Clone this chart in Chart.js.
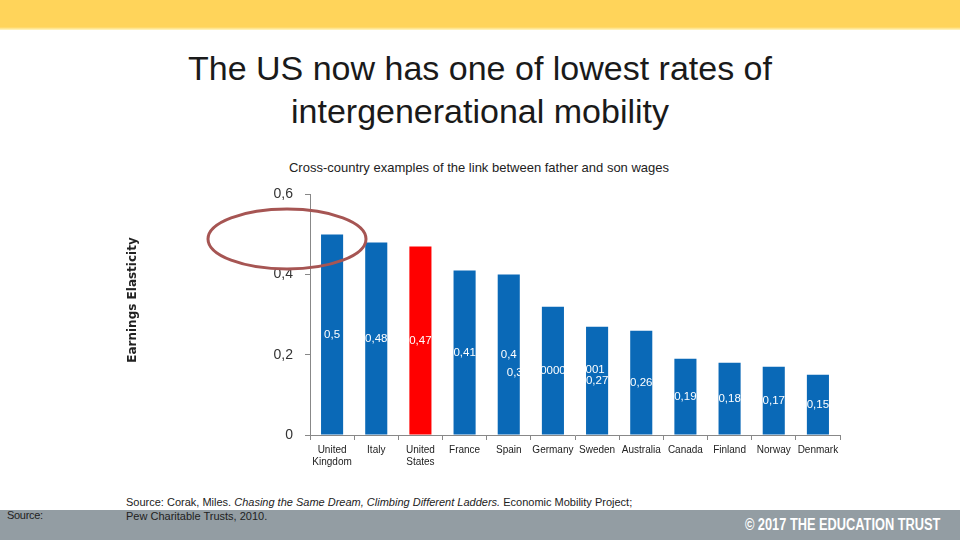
<!DOCTYPE html>
<html>
<head>
<meta charset="utf-8">
<script src="https://cdn.jsdelivr.net/npm/chart.js@4/dist/chart.umd.min.js"></script>
<style>
body { margin: 0; width: 960px; height: 540px; overflow: hidden; background: #fff; font-family: "Liberation Sans", Arial, sans-serif; position: relative; }
#topband { position: absolute; left: 0; top: 0; width: 960px; height: 30px; background: linear-gradient(#FFD45A 0, #FFD45A 27px, #fff7c8 30px); }
#title { position: absolute; left: 0; top: 47px; width: 960px; text-align: center; font-size: 34px; line-height: 43px; color: #1a1a1a; }
#subtitle { position: absolute; left: 0; top: 160px; width: 958px; text-align: center; font-size: 13px; color: #222; }
#wrap { position: absolute; left: 100px; top: 174px; width: 760px; height: 306px; }
#footband { position: absolute; left: 0; top: 510px; width: 960px; height: 30px; background: #939DA3; }
#src1 { position: absolute; left: 7px; top: 509px; font-size: 11px; color: #222; letter-spacing: -0.3px; }
#src2 { position: absolute; left: 126px; top: 495px; font-size: 11px; line-height: 14px; color: #222; letter-spacing: 0px; }
#copy { position: absolute; right: 20px; top: 516px; font-family: "Liberation Sans", sans-serif; font-weight: bold; font-size: 16px; color: #fff; transform: scaleX(0.8); transform-origin: right center; }
</style>
</head>
<body>
<div id="topband"></div>
<div id="title">The US now has one of lowest rates of<br>intergenerational mobility</div>
<div id="subtitle">Cross-country examples of the link between father and son wages</div>
<div id="wrap"><canvas id="chart" width="760" height="306"></canvas></div>
<div id="footband"></div>
<div id="src1">Source:</div>
<div id="src2">Source: Corak, Miles. <i>Chasing the Same Dream, Climbing Different Ladders.</i> Economic Mobility Project;<br>Pew Charitable Trusts, 2010.</div>
<div id="copy">© 2017 THE EDUCATION TRUST</div>
<script>
var countries = [["United", "Kingdom"], "Italy", ["United", "States"], "France", "Spain", "Germany", "Sweden", "Australia", "Canada", "Finland", "Norway", "Denmark"]
var elasticity = [0.50, 0.48, 0.47, 0.41, 0.40, 0.32, 0.27, 0.26, 0.19, 0.18, 0.17, 0.15]
var barLabels = ["0,5", "0,48", "0,47", "0,41", "0,4", "0000", "0,27", "0,26", "0,19", "0,18", "0,17", "0,15"]
var extraAbove = ["", "", "", "", "", "", "001", "", "", "", "", ""]
var extraBelow = ["", "", "", "", "0,3", "", "", "", "", "", "", ""]
var yTicks = [0, 0.2, 0.4, 0.6]

var blue = "#0A69B7"
var red = "#FF0000"
var barColors = countries.map(function(c){
    return (Array.isArray(c) && c[1] == "States") ? red : blue
})

var labelPlugin = {
    id: "barText",
    afterDatasetsDraw: function(chart){
        var ctx = chart.ctx
        var meta = chart.getDatasetMeta(0)
        ctx.save()
        ctx.fillStyle = "#fff"
        ctx.font = "11.5px 'Liberation Sans', Arial, sans-serif"
        ctx.textAlign = "center"
        ctx.textBaseline = "middle"
        meta.data.forEach(function(bar, i){
            var mid = (bar.y + bar.base) / 2
            ctx.fillText(barLabels[i], bar.x, mid)
            if(extraAbove[i]) ctx.fillText(extraAbove[i], bar.x - 2, mid - 11)
            if(extraBelow[i]) ctx.fillText(extraBelow[i], bar.x + 6, mid + 18)
        })
        // y axis title
        ctx.fillStyle = "#222"
        ctx.font = "bold 12px 'DejaVu Sans', sans-serif"
        ctx.translate(33, 126)
        ctx.rotate(-Math.PI / 2)
        ctx.fillText("Earnings Elasticity", 0, 0)
        ctx.restore()
        // highlight ring
        ctx.save()
        ctx.strokeStyle = "#A65553"
        ctx.lineWidth = 3
        ctx.beginPath()
        ctx.ellipse(187, 65, 79, 30, 0, 0, Math.PI * 2)
        ctx.stroke()
        ctx.restore()
    }
}

new Chart(document.getElementById("chart"), {
    type: "bar",
    data: {
        labels: countries,
        datasets: [{
            data: elasticity,
            backgroundColor: barColors,
            barPercentage: 0.5,
            categoryPercentage: 1
        }]
    },
    options: {
        responsive: false,
        maintainAspectRatio: false,
        animation: false,
        layout: {padding: {top: 5, right: 20, bottom: 0, left: 0}},
        plugins: {legend: {display: false}, tooltip: {enabled: false}},
        scales: {
            x: {
                afterFit: function(s){ s.height = 45 },
                grid: {display: true, offset: true, drawOnChartArea: false, drawTicks: true, tickLength: 5, color: "#888"},
                border: {display: true, color: "#888"},
                ticks: {padding: 4, color: "#222", font: {family: "'Liberation Sans', Arial, sans-serif", size: 10}, maxRotation: 0, autoSkip: false}
            },
            y: {
                min: 0, max: 0.6,
                afterFit: function(s){ s.width = 210 },
                afterBuildTicks: function(s){ s.ticks = yTicks.map(function(v){ return {value: v} }) },
                grid: {display: true, drawOnChartArea: false, drawTicks: true, tickLength: 5, color: "#888"},
                border: {display: true, color: "#888"},
                ticks: {padding: 12, color: "#333", font: {family: "'Liberation Sans', Arial, sans-serif", size: 14},
                    callback: function(v){ return String(Math.round(v * 10) / 10).replace(".", ",") }}
            }
        }
    },
    plugins: [labelPlugin]
})
</script>
</body>
</html>
